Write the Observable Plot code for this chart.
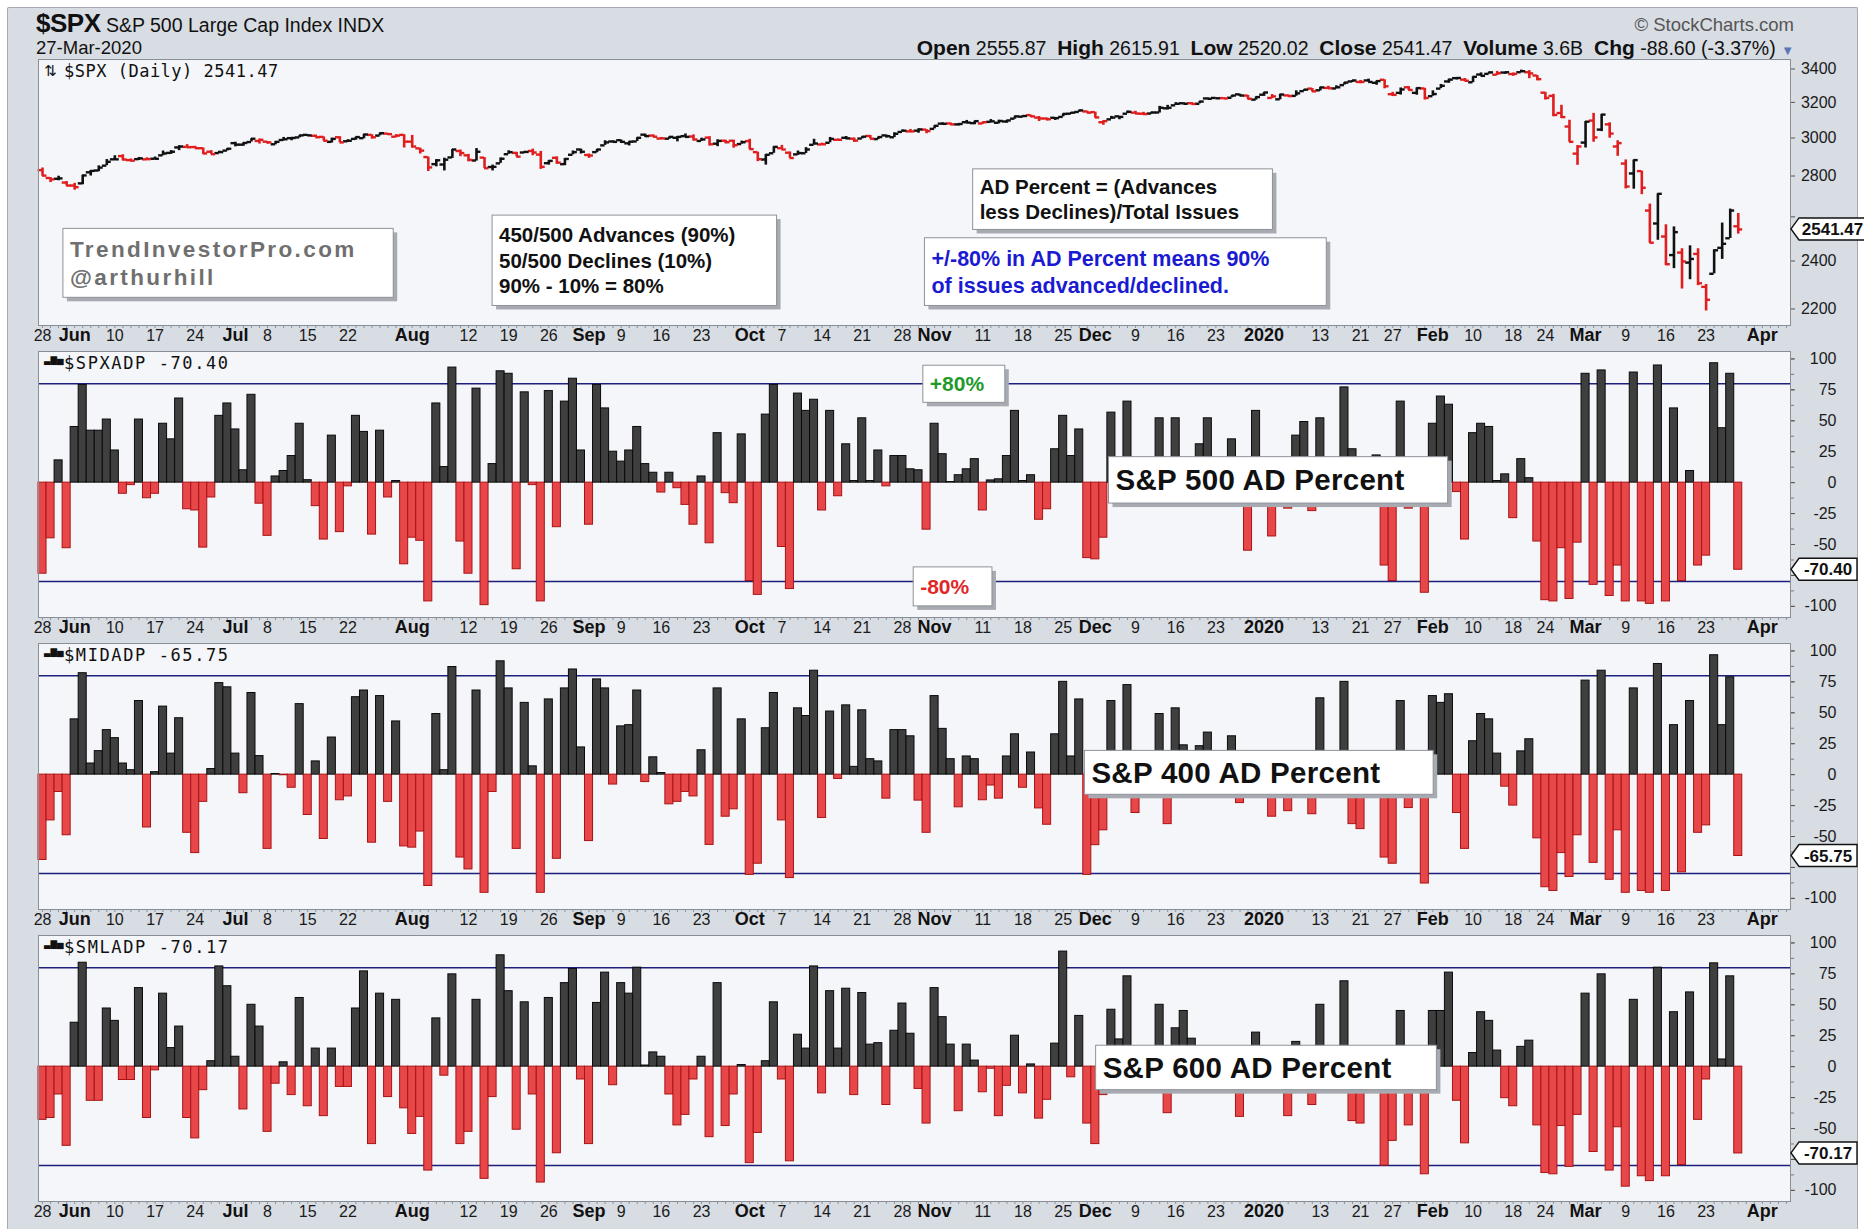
<!DOCTYPE html>
<html><head><meta charset="utf-8">
<script src="https://cdn.jsdelivr.net/npm/d3@7"></script>
<script src="https://cdn.jsdelivr.net/npm/@observablehq/plot@0.6"></script>
<style>
html,body{margin:0;padding:0;background:#fff}
body{width:1864px;height:1229px;position:relative;overflow:hidden;font-family:"Liberation Sans",Arial,Helvetica,sans-serif;color:#111}
#bg{position:absolute;left:7px;top:7px;width:1849px;height:1222px;background:#d8dce3;border:1px solid #a5aab2;border-bottom:none;border-radius:2px}
.plot{position:absolute;left:0}
#title{position:absolute;left:36px;top:8px;font-size:19.5px;white-space:nowrap}
#title b{font-size:26px;letter-spacing:-0.5px}
#date{position:absolute;left:36px;top:37px;font-size:18.5px}
#brand{position:absolute;right:70px;top:14px;font-size:18.5px;color:#555}
#quote{position:absolute;right:70px;top:36px;font-size:19.5px;white-space:nowrap}
#quote b{font-size:21px}
</style></head><body>
<div id="bg"></div>
<div id="title"></div>
<div id="date"></div>
<div id="brand"></div>
<div id="quote"></div>
<div id="charts"></div>
<script>
// ---------------- data ----------------
const titleSymbol = "$SPX";
const titleName = "S&P 500 Large Cap Index INDX";
const titleDate = "27-Mar-2020";
const brandText = "\u00A9 StockCharts.com";
const headerQuote = [["Open","2555.87"],["High","2615.91"],["Low","2520.02"],["Close","2541.47"],["Volume","3.6B"],["Chg","-88.60 (-3.37%)"]];

// trading-day index tick labels (May 28 2019 = 0 ... Mar 27 2020 = 211, Apr 1 = 214)
const dayTickIdx  = [0,9,14,19,28,33,38,53,58,63,72,77,82,92,97,102,107,117,122,127,136,141,146,159,164,168,178,183,187,197,202,207];
const dayTickText = ["28","10","17","24","8","15","22","12","19","26","9","16","23","7","14","21","28","11","18","25","9","16","23","13","21","27","10","18","24","9","16","23"];
const monthTickIdx  = [4,24,46,68,88,111,131,152,173,192,214];
const monthTickText = ["Jun","Jul","Aug","Sep","Oct","Nov","Dec","2020","Feb","Mar","Apr"];

const priceTicks = [2200,2400,2600,2800,3000,3200,3400];
const adTicks = [-100,-75,-50,-25,0,25,50,75,100];
const adLevels = [80,-80];

const spxPrevClose = 2826;
const spxOpen = [2830,2790,2786,2767,2752,2763,2819,2828,2853,2886,
2903,2882,2887,2886,2889,2907,2920,2949,2952,2951,
2945,2926,2919,2932,2972,2964,2978,2984,2980,2966,
2989,2999,3003,3017,3012,3006,2979,3004,2982,2995,
2999,3017,3013,3024,3007,3017,2980,2944,2898,2861,
2859,2896,2930,2907,2880,2895,2846,2865,2913,2920,
2922,2930,2911,2866,2894,2861,2910,2938,2909,2924,
2960,2981,2988,2971,2981,3018,3013,2997,2996,3001,
3010,3008,2984,3002,2969,2985,2985,2967,2983,2924,
2885,2918,2945,2921,2912,2918,2963,2965,2974,2990,
3001,2996,2997,3011,2994,3014,3004,3033,3036,3040,
3046,3050,3079,3080,3075,3087,3082,3080,3089,3084,
3091,3107,3118,3127,3113,3108,3112,3117,3135,3145,
3148,3144,3087,3103,3120,3135,3141,3135,3136,3142,
3166,3183,3195,3195,3192,3223,3226,3225,3227,3247,
3240,3216,3245,3226,3218,3241,3238,3266,3281,3271,
3285,3282,3302,3324,3321,3330,3316,3334,3248,3256,
3289,3256,3282,3236,3281,3324,3344,3335,3319,3366,
3370,3365,3378,3369,3380,3380,3360,3257,3238,3139,
3063,2916,2975,3096,3046,3075,2954,2864,2813,2825,
2630,2569,2509,2426,2437,2393,2431,2290,2345,2458,
2501,2556];
const spxHigh = [2841,2792,2799,2772,2763,2804,2828,2852,2885,2905,
2910,2888,2896,2894,2898,2930,2932,2958,2964,2955,
2946,2932,2929,2943,2977,2974,2996,2994,2981,2981,
3003,3003,3014,3018,3016,3006,2999,3007,2990,3005,
3020,3018,3028,3025,3018,3018,3014,2945,2898,2884,
2892,2938,2935,2912,2943,2895,2856,2893,2931,2923,
2928,2940,2928,2879,2899,2890,2930,2940,2914,2938,
2985,2985,2989,2980,3001,3021,3017,3003,3006,3008,
3022,3017,2999,3007,2990,2988,2988,2983,2993,2924,
2911,2953,2960,2925,2930,2948,2993,2972,3003,2994,
3008,3000,3007,3014,3005,3016,3028,3044,3047,3050,
3046,3067,3084,3083,3079,3097,3093,3088,3102,3098,
3097,3121,3124,3127,3119,3111,3113,3134,3142,3155,
3150,3144,3095,3120,3120,3150,3149,3143,3144,3177,
3183,3198,3198,3199,3206,3226,3227,3226,3240,3248,
3241,3232,3258,3246,3247,3244,3268,3275,3282,3289,
3295,3298,3317,3330,3330,3338,3326,3334,3259,3285,
3293,3285,3283,3268,3306,3338,3348,3342,3352,3376,
3381,3385,3380,3375,3393,3390,3360,3259,3247,3183,
3098,2959,3091,3137,3131,3084,2985,2883,2882,2825,
2661,2711,2563,2553,2454,2467,2454,2300,2449,2571,
2637,2616];
const spxLow = [2799,2767,2776,2750,2729,2756,2800,2822,2853,2880,
2878,2874,2880,2880,2886,2905,2912,2932,2946,2944,
2912,2912,2918,2930,2952,2955,2978,2967,2967,2963,
2984,2985,3001,3008,3003,2984,2973,2975,2977,2988,
2996,2994,3012,3014,3001,2946,2946,2914,2823,2847,
2826,2891,2900,2873,2877,2839,2826,2865,2913,2899,
2917,2905,2834,2856,2860,2853,2910,2914,2891,2921,
2960,2974,2971,2957,2981,3004,3006,2991,2993,2979,
3003,2984,2982,2957,2953,2969,2945,2967,2938,2874,
2856,2918,2937,2892,2907,2917,2963,2962,2974,2985,
2991,2976,2995,2996,2991,3000,3002,3032,3034,3026,
3023,3050,3070,3072,3066,3080,3073,3075,3084,3078,
3081,3104,3113,3113,3091,3094,3097,3117,3131,3143,
3139,3110,3070,3103,3101,3135,3135,3126,3133,3139,
3156,3183,3191,3191,3192,3217,3222,3220,3227,3235,
3216,3213,3235,3222,3215,3233,3236,3264,3261,3267,
3278,3280,3302,3317,3310,3321,3301,3280,3235,3243,
3271,3242,3214,3236,3281,3313,3333,3323,3317,3355,
3369,3360,3367,3355,3378,3341,3328,3214,3118,3108,
2977,2855,2946,2977,3035,2999,2902,2735,2734,2707,
2479,2492,2380,2367,2281,2320,2295,2192,2345,2407,
2500,2520];
const spxClose = [2802,2783,2788,2752,2744,2803,2826,2843,2873,2886,
2885,2879,2891,2887,2889,2917,2926,2954,2950,2945,
2917,2913,2924,2942,2964,2973,2996,2990,2976,2979,
2993,3000,3014,3014,3004,2985,2995,2976,2985,3005,
3019,3004,3026,3021,3013,2980,2954,2932,2844,2881,
2884,2938,2919,2883,2926,2840,2847,2889,2924,2900,
2925,2922,2847,2878,2869,2888,2924,2926,2906,2938,
2976,2979,2979,2980,3001,3010,3007,2998,3006,3006,
3006,2992,2992,2966,2984,2977,2961,2977,2940,2887,
2910,2952,2938,2893,2919,2938,2970,2966,2995,2990,
2998,2986,3007,2996,3005,3010,3023,3040,3036,3047,
3038,3067,3078,3075,3077,3085,3093,3087,3092,3094,
3097,3120,3122,3120,3108,3104,3110,3134,3141,3154,
3141,3114,3093,3113,3117,3146,3136,3133,3142,3169,
3169,3192,3192,3191,3205,3221,3224,3223,3240,3240,
3221,3231,3258,3235,3246,3237,3253,3275,3265,3288,
3283,3289,3317,3330,3321,3321,3326,3295,3244,3276,
3273,3284,3226,3249,3298,3335,3345,3328,3352,3358,
3379,3374,3380,3370,3386,3373,3338,3226,3128,3116,
2979,2954,3090,3003,3130,3024,2972,2747,2882,2741,
2481,2711,2386,2529,2398,2409,2305,2237,2447,2476,
2630,2541.47];

const spxADP = [-73.6,-45,18,-53,45,79,42,42,51,26,-9,-2,51,-12.6,-9,47.6,35,68,-21.5,-22.5,
-52.5,-12,54,64,43,10,71,-17,-43,5,9.4,21.5,47.6,2,-19,-46,38,-40,-3,54,
41,-42,42,-12,1.3,-66,-44.5,-47,-96,64,12.6,93,-47.6,-73.6,76,
-99,15,90,88,-70,73,-2,-96,74,-36,65.5,84,26,-34,79,60,25,17,26,45,
15,8,-8,8,-4.5,-18,-34,5,-49,40,-8.5,-16.6,39,-79.5,-90.7,55,79,-52,-86,72,
58,67,-22.5,58,-11,31,1.3,52,1.3,26,-3,21.5,21.5,10.8,10,
-38,47.6,23,0.5,6,10.8,19,-22.5,1.8,2.7,21.5,58,1.3,6,-30,-21.5,27,54,21.5,43,
-61,-62,-44.5,56.6,8,65.5,-18,-8,12,52,3,52,5,-6,31,52,8,-5,35,-3,
-55,58,15,-43.5,10,-21,38,49,-23,52,-10,5,77,27,
-12,-5,22,-67,-79.5,65.5,-21,12,-89,47.6,69.6,63,-7.6,-46,40,47.6,45,1.3,6.7,-28.7,
19,3.6,-47.6,-95,-96,-53,-94,-48.5,88,-82.6,90.7,-91.6,-67,-96,89,-96,-98,94.7,-96,60,
-79.5,9.4,-67,-59,96.5,44,88,-70.4];

const midADP = [-69,-37,-14,-49,44.7,82,9,19,36,29.5,9,3.6,59.5,-42.7,2,55,17,45.6,-47,-63.4,
-22,4.5,74,70.6,17,-15,66,15,-60,0.5,-0.5,-10.6,57,-32.6,10.7,-52,30,-20.7,-17.6,62.6,
68,-55,63.5,-22,43,-58,-59,-46,-90,49,3.6,87,-67,-76.6,68,
-95.5,-14,91.6,69.7,-60,58,6.7,-95.5,60.8,-68,69.7,85,22,-53.7,77,69.7,-8,39,40,68,
-6,14,1.3,-24,-22,-14,-17.6,19.7,-56.8,69.7,-34,-28,44.7,-81,-72,37.5,66,-37,-83.6,53.6,
47.4,84,-35,51,-3.5,56,6.3,52,12.5,10.7,-19.4,36,36,31,-21,
-47,63.5,37,12.5,-26.4,14.7,12.5,-20.7,-8.8,-19.4,14.7,32.6,-10.6,17.9,-27.3,-40.5,32.6,75,14.7,60.8,
-81,-57,-45,59.5,10,72.4,-31,-8,10,49,-40,53.6,23.7,-5,23,34,8,-6,31,-23,
-12,10,12,-34,8,-29.5,15,14,-32,61.7,-10,5,75,-40,
-44,-8,10,-67,-72,59.5,-27,10,-88,63.5,58,65,-31,-60,27,49,44.7,17,-9.7,-25,
18.8,28.6,-51.5,-91,-94,-63.4,-82.7,-49,76,-71.3,84,-85,-45,-95.5,69.7,-94,-95.5,89.4,-94,40,
-79,59.5,-47,-41,96.5,40,78.7,-65.75];

const smlADP = [-43,-41.5,-22.5,-64,35.5,84,-27.6,-27.6,47,37,-10.8,-10.8,63.5,-41.5,-3,59,15,32.4,-41.5,-58,
-19,4.4,81,65,8,-34.6,50,32.4,-52.7,-13.8,3.5,-23,55.5,-32,14.6,-40,14.6,-16.4,-16.4,47,
77,-62.6,59,-24.6,54,-33.7,-54.4,-40.6,-84,39,-7.3,74.6,-62.6,-52.7,54,
-90.7,-24.6,90,61,-51,52,-22.5,-93.7,55.5,-70,67.5,79,-10.4,-62.6,51.5,76,-15,67.5,59,80,
0.9,11.5,8,-22.5,-47.5,-39,-10.4,8,-57,67.5,-48,-22.5,1.3,-78,-53.6,4.4,52,-10.4,-76.5,25.8,
14.6,81,-21.6,61,14.6,63,-23,59.5,17.8,19,-31,29,51,26.6,-18,
-46,63.5,40,17.8,-36,17.8,4.9,-20.7,-1.7,-40,-15.5,25,-21.6,1.8,-42,-26.8,18.6,93,-8.6,41,
-46,-62.6,-23,46,22,73,-8,6,-10,50,-37.6,31,45,22.6,10,-5,8,-6,10,-40.6,
-12,27.5,5,-12,10,-40,20,-8,-31,50,-10,8,69,-44,
-46,-10,8,-80,-60,45,-47.5,10,-87,45,45,76,-27.6,-62,11,44,37,13,-25.5,-32,
16,21,-47.5,-86,-87,-48,-81,-39,59,-69,74.6,-84,-49,-97,54,-88.6,-92.5,80,-88.6,44,
-79.5,60,-43,-10.4,83.5,5.8,73,-70.17];

const panelLabels = ["$SPX (Daily) 2541.47", "$SPXADP -70.40", "$MIDADP -65.75", "$SMLADP -70.17"];
const lastTags = ["2541.47", "-70.40", "-65.75", "-70.17"];

// annotation boxes (x in trading-day index, y in panel units)
const priceNotes = [
  {x1:2.6, x2:43.7, y1:2245, y2:2544, text:"TrendInvestorPro.com\n@arthurhill", color:"#6f6f6f", size:22.5, ls:2.4, lh:1.27},
  {x1:56, x2:91.4, y1:2212, y2:2606, text:"450/500 Advances (90%)\n50/500 Declines (10%)\n90% - 10% = 80%", color:"#111", size:20.5, ls:0, lh:1.25},
  {x1:115.8, x2:153.1, y1:2539, y2:2834, text:"AD Percent = (Advances\nless Declines)/Total Issues", color:"#111", size:20.5, ls:0, lh:1.22},
  {x1:109.8, x2:159.8, y1:2212, y2:2501, text:"+/-80% in AD Percent means 90%\nof issues advanced/declined.", color:"#1a1ad2", size:21.5, ls:0, lh:1.27}
];
const adNotes = [
  [{x1:132.7, x2:174.9, y1:-16.9, y2:20.6, text:"S&P 500 AD Percent", color:"#111", size:29.5, ls:0.3, lh:1},
   {x1:109.6, x2:119.8, y1:64.5, y2:94.5, text:"+80%", color:"#1f9a2a", size:21, ls:0, lh:1},
   {x1:108.4, x2:118.2, y1:-100, y2:-68.5, text:"-80%", color:"#e02828", size:21, ls:0, lh:1}],
  [{x1:129.7, x2:173.1, y1:-16.3, y2:19.2, text:"S&P 400 AD Percent", color:"#111", size:29.5, ls:0.3, lh:1}],
  [{x1:131.1, x2:173.5, y1:-19, y2:16.9, text:"S&P 600 AD Percent", color:"#111", size:29.5, ls:0.3, lh:1}]
];

// ---------------- header ----------------
document.getElementById("title").innerHTML = `<b>${titleSymbol}</b> ${titleName.replace("&","&amp;")}`;
document.getElementById("date").textContent = titleDate;
document.getElementById("brand").textContent = brandText;
document.getElementById("quote").innerHTML = headerQuote.map(([k,v]) => `<b>${k}</b> ${v}`).join("&nbsp; ") +
  ' <span style="color:#5a78b8;font-size:13px">&#9660;</span>';

// ---------------- layout ----------------
const W = 1864, ML = 38, MR = 74, MB = 26, H = 292;
const tops = [59, 351, 643, 935];
const X_DOMAIN = [-0.5, 217.5];
const PRICE_DOMAIN = [2135, 3459];
const AD_DOMAIN = [-109, 106];
const FONT = "Liberation Sans, Arial, sans-serif";
const PANEL_BG = "#f4f6f9";
const dayMap = new Map(dayTickIdx.map((d,i)=>[d, dayTickText[i]]));
const monMap = new Map(monthTickIdx.map((d,i)=>[d, monthTickText[i]]));

function xAxes() {
  return [
    Plot.axisX(d3.range(0, 218), {anchor:"bottom", tickSize:3, tickFormat:()=>"", stroke:"#8d9299", label:null}),
    Plot.axisX(dayTickIdx, {anchor:"bottom", tickSize:0, tickPadding:4, tickFormat:d=>dayMap.get(d), fontSize:16, fill:"#1a1a1a", label:null}),
    Plot.axisX(monthTickIdx, {anchor:"bottom", tickSize:0, tickPadding:3, tickFormat:d=>monMap.get(d), fontSize:18, fontWeight:"bold", fill:"#111", label:null})
  ];
}

// right-hand axis; labels hidden behind the last-value tag are left out (the tag covers them)
function yAxisRight(ticks, tagValue, toPx) {
  const shown = ticks.filter(t => Math.abs(toPx(t) - toPx(tagValue)) >= 19);
  return [
    Plot.axisY(ticks, {anchor:"right", label:null, tickSize:4, tickFormat:()=>"", stroke:"#555"}),
    Plot.axisY(shown, {anchor:"right", label:null, tickSize:0, tickPadding:46, textAnchor:"end",
      fontSize:16, tickFormat:d=>String(d), fill:"#1a1a1a"})
  ];
}

function valueTag(value, label) {
  return (index, scales, values, dims) => {
    const y = scales.y(value);
    const x0 = dims.width - dims.marginRight + 1;
    const w = label.length * 9 + 4;
    const g = d3.create("svg:g");
    g.append("path").attr("d", `M${x0},${y}L${x0+8},${y-11}H${x0+8+w}V${y+11}H${x0+8}Z`)
      .attr("fill","#fff").attr("stroke","#111").attr("stroke-width",1.4);
    g.append("text").attr("x", x0+8+w/2).attr("y", y).attr("dy","0.36em").attr("text-anchor","middle")
      .attr("font-family", FONT).attr("font-size",17).attr("font-weight","bold").attr("fill","#111").text(label);
    return g.node();
  };
}

function noteBox(b) {
  return (index, scales, values, dims) => {
    const xa = scales.x(b.x1), xb = scales.x(b.x2);
    const ya = scales.y(b.y2), yb = scales.y(b.y1);
    const g = d3.create("svg:g");
    g.append("rect").attr("x", xa+4).attr("y", ya+4).attr("width", xb-xa).attr("height", yb-ya).attr("fill","#a7abb1");
    g.append("rect").attr("x", xa).attr("y", ya).attr("width", xb-xa).attr("height", yb-ya).attr("fill","#fff").attr("stroke","#8e9298");
    const lines = b.text.split("\n");
    const lh = b.size * b.lh;
    const cy = (ya + yb) / 2;
    const t = g.append("text").attr("font-family", FONT).attr("font-size", b.size).attr("font-weight","bold")
      .attr("text-anchor","start").attr("fill", b.color).attr("letter-spacing", b.ls);
    lines.forEach((ln, k) => t.append("tspan").attr("x", xa + 7).attr("y", cy + (k - (lines.length-1)/2) * lh)
      .attr("dy","0.36em").text(ln));
    return g.node();
  };
}

function panelLabel(text, icon, iconSize, ls) {
  return (index, scales, values, dims) => {
    const x0 = dims.marginLeft, y0 = dims.marginTop;
    const g = d3.create("svg:g").attr("fill", "#111").attr("text-anchor", "start");
    g.append("text").attr("x", x0 + 6).attr("y", y0 + 5).attr("dy", "0.8em")
      .attr("font-family", "DejaVu Sans").attr("font-size", iconSize).text(icon);
    g.append("text").attr("x", x0 + 26).attr("y", y0 + 4).attr("dy", "0.8em")
      .attr("font-family", "DejaVu Sans Mono").attr("font-size", 17).attr("letter-spacing", ls).text(text);
    return g.node();
  };
}

function place(svg, top) {
  const div = document.createElement("div");
  div.className = "plot";
  div.style.top = top + "px";
  div.appendChild(svg);
  document.getElementById("charts").appendChild(div);
}

const frameH = H - MB;
const pricePx = v => frameH * Math.log(PRICE_DOMAIN[1] / v) / Math.log(PRICE_DOMAIN[1] / PRICE_DOMAIN[0]);
const adPx = v => frameH * (AD_DOMAIN[1] - v) / (AD_DOMAIN[1] - AD_DOMAIN[0]);

// ---------------- price panel ----------------
const idx = d3.range(spxClose.length);
const upColor = i => (spxClose[i] >= (i === 0 ? spxPrevClose : spxClose[i-1])) ? "#111111" : "#e01e1e";
const lastClose = spxClose[spxClose.length-1];

const pricePlot = Plot.plot({
  width: W, height: H, marginLeft: ML, marginRight: MR, marginTop: 0, marginBottom: MB,
  style: {background: "transparent", fontFamily: FONT, overflow: "visible"},
  x: {domain: X_DOMAIN},
  y: {type: "log", domain: PRICE_DOMAIN},
  color: {type: "identity"},
  marks: [
    Plot.frame({fill: PANEL_BG}),
    ...priceNotes.map(b => noteBox(b)),
    Plot.ruleX(idx, {x: i=>i, y1: i=>spxLow[i], y2: i=>spxHigh[i], stroke: upColor, strokeWidth: 2.6}),
    Plot.ruleY(idx, {x1: i=>i-0.55, x2: i=>i, y: i=>spxOpen[i], stroke: upColor, strokeWidth: 2.4}),
    Plot.ruleY(idx, {x1: i=>i, x2: i=>i+0.55, y: i=>spxClose[i], stroke: upColor, strokeWidth: 2.4}),
    panelLabel(panelLabels[0], "\u21C5", 15, 0.5),
    Plot.frame({stroke: "#8a8f97"}),
    ...yAxisRight(priceTicks, lastClose, pricePx),
    ...xAxes(),
    valueTag(lastClose, lastTags[0])
  ]
});
place(pricePlot, tops[0]);

// ---------------- AD panels ----------------
const adSeries = [spxADP, midADP, smlADP];
adSeries.forEach((vals, k) => {
  const data = vals.map((v, i) => ({i, v}));
  const last = vals[vals.length-1];
  const p = Plot.plot({
    width: W, height: H, marginLeft: ML, marginRight: MR, marginTop: 0, marginBottom: MB,
    style: {background: "transparent", fontFamily: FONT, overflow: "visible"},
    x: {domain: X_DOMAIN},
    y: {domain: AD_DOMAIN},
    color: {type: "identity"},
    marks: [
      Plot.frame({fill: PANEL_BG}),
      Plot.ruleY(adLevels, {stroke: "#1d1f7c", strokeWidth: 1.5}),
      Plot.rect(data, {x1: d=>d.i-0.5, x2: d=>d.i+0.5, y1: 0, y2: "v",
        fill: d => d.v >= 0 ? "#3f3f3f" : "#e8474a",
        stroke: d => d.v >= 0 ? "#0a0a0a" : "#a81414", strokeWidth: 1}),
      ...adNotes[k].map(b => noteBox(b)),
      panelLabel(panelLabels[k+1], "\u2583\u2587\u2585", 8.5, 1.6),
      Plot.frame({stroke: "#8a8f97"}),
      Plot.axisY(d3.range(-100, 101, 12.5), {anchor:"right", label:null, tickSize:3, tickFormat:()=>"", stroke:"#777"}),
      ...yAxisRight(adTicks, last, adPx),
      ...xAxes(),
      valueTag(last, lastTags[k+1])
    ]
  });
  place(p, tops[k+1]);
});
</script>
</body></html>
